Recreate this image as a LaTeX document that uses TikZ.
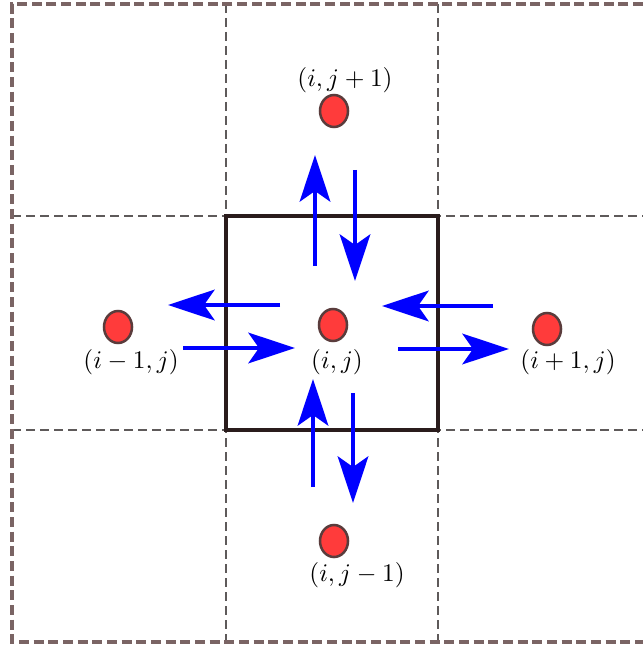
\documentclass[tikz,border=0pt]{standalone}
\usepackage{amsmath}
\usepackage{graphicx}
\usepackage{xcolor}
\usetikzlibrary{arrows.meta,shapes.geometric}
\definecolor{gridGray}{HTML}{5E5A5A}
\definecolor{frameBrown}{HTML}{7A6464}
\definecolor{cellBlack}{HTML}{2A1C1C}
\definecolor{dotRed}{HTML}{FF3B3B}
\definecolor{dotRim}{HTML}{5A3C3C}
\definecolor{fluxBlue}{HTML}{0000FF}
\newcommand{\pLabel}[1]{\scalebox{1.9}{$#1$}}

\begin{document}
\begin{tikzpicture}[x=0.75pt,y=-0.75pt,
  gridline/.style={gridGray, line width=1.8pt, dash pattern=on 6.5pt off 4pt},
  frameline/.style={frameBrown, line width=2.5pt, dash pattern=on 7.5pt off 3.5pt},
  cellline/.style={cellBlack, line width=2.3pt},
  celldot/.style={ellipse, draw=dotRim, fill=dotRed, line width=1.9pt, minimum width=21pt, minimum height=24pt, inner sep=0pt},
  celllabel/.style={inner sep=0pt, text=black},
  flux/.style={fluxBlue, line width=2.8pt, -{Stealth[length=35pt, width=23pt, inset=8pt]}}]
\useasboundingbox (0,0) rectangle (643,645);
% grid of cells
\draw[gridline] (226,4) -- (226,642);
\draw[gridline] (438,4) -- (438,642);
\draw[gridline] (12,216) -- (643,216);
\draw[gridline] (12,430) -- (643,430);
\draw[frameline] (643,4) -- (12,4) -- (12,642) -- (643,642);
\draw[cellline] (226,216) rectangle (438,430);
% cell centres
\node[celldot] (pN) at (334,111) {};
\node[celldot] (pW) at (118,327) {};
\node[celldot] (pC) at (333,325) {};
\node[celldot] (pE) at (547,329) {};
\node[celldot] (pS) at (334,541) {};
\node[celllabel] (lN) at (345,80) {\pLabel{(i,j+1)}};
\node[celllabel] (lW) at (131,362) {\pLabel{(i-1,j)}};
\node[celllabel] (lC) at (337,362) {\pLabel{(i,j)}};
\node[celllabel] (lE) at (568,362) {\pLabel{(i+1,j)}};
\node[celllabel] (lS) at (357,575) {\pLabel{(i,j-1)}};
% flux arrows
\coordinate (nUpA) at (315,266);  \coordinate (nUpB) at (315,155);
\coordinate (nDnA) at (355,170);  \coordinate (nDnB) at (355,281);
\coordinate (wLfA) at (280,305);  \coordinate (wLfB) at (168,305);
\coordinate (wRtA) at (183,348);  \coordinate (wRtB) at (295,348);
\coordinate (eLfA) at (493,306);  \coordinate (eLfB) at (382,306);
\coordinate (eRtA) at (398,349);  \coordinate (eRtB) at (509,349);
\coordinate (sUpA) at (313,487);  \coordinate (sUpB) at (313,379);
\coordinate (sDnA) at (353,393);  \coordinate (sDnB) at (353,503);
\draw[flux] (nUpA) -- (nUpB);
\draw[flux] (nDnA) -- (nDnB);
\draw[flux] (wLfA) -- (wLfB);
\draw[flux] (wRtA) -- (wRtB);
\draw[flux] (eLfA) -- (eLfB);
\draw[flux] (eRtA) -- (eRtB);
\draw[flux] (sUpA) -- (sUpB);
\draw[flux] (sDnA) -- (sDnB);
\end{tikzpicture}
\end{document}
